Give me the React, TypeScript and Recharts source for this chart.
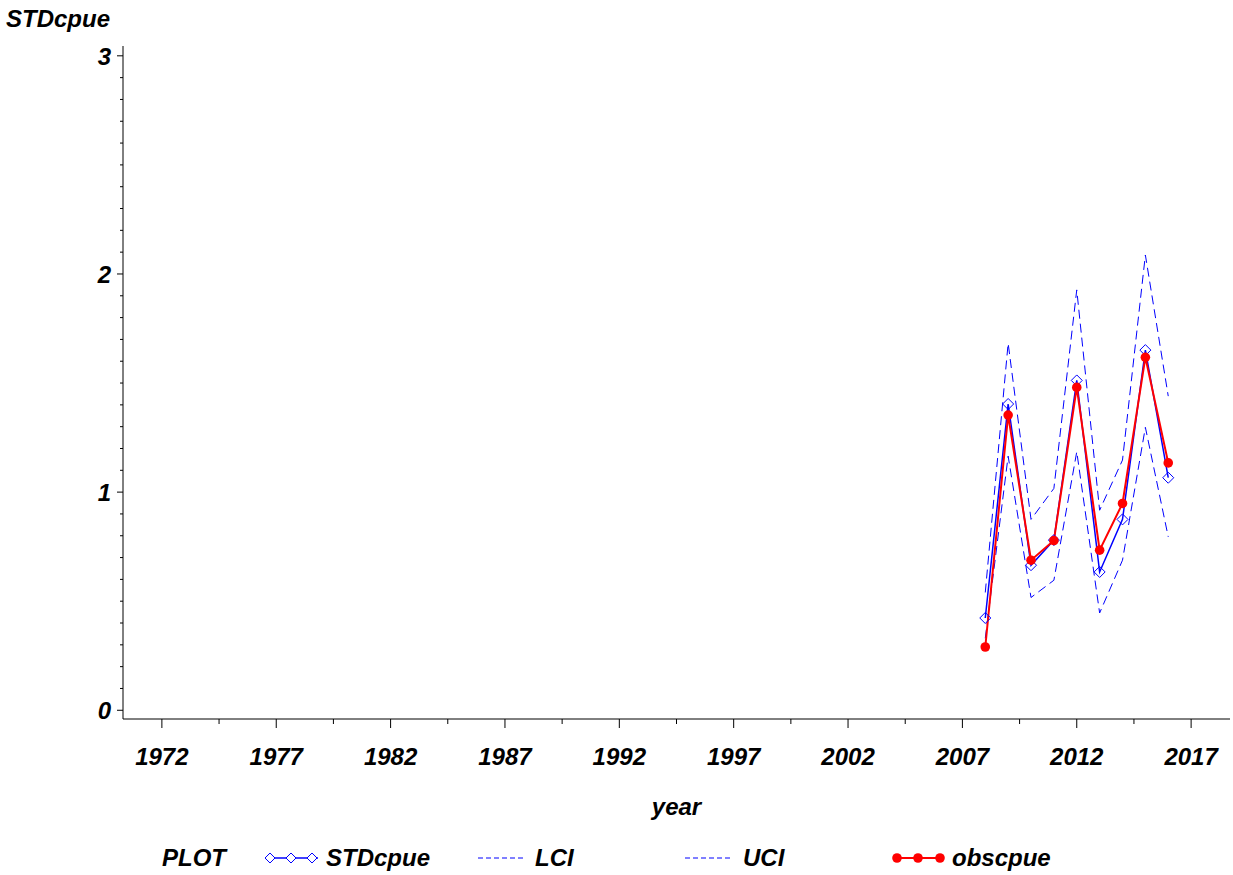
import { LineChart, Line, XAxis, YAxis, Label } from "recharts";

const years = [2008, 2009, 2010, 2011, 2012, 2013, 2014, 2015, 2016];
const stdCpue = [0.423, 1.404, 0.665, 0.78, 1.512, 0.634, 0.875, 1.651, 1.066];
const obsCpue = [0.29, 1.353, 0.688, 0.778, 1.48, 0.734, 0.948, 1.618, 1.134];
const lci = [0.33, 1.165, 0.517, 0.596, 1.185, 0.446, 0.688, 1.297, 0.795];
const uci = [0.54, 1.682, 0.875, 1.017, 1.927, 0.917, 1.147, 2.087, 1.44];

const xMajorTicks = [1972, 1977, 1982, 1987, 1992, 1997, 2002, 2007, 2012, 2017];
const yMajorTicks = [0, 1, 2, 3];

const X_DOMAIN: [number, number] = [1970.3, 2018.7];
const Y_DOMAIN: [number, number] = [-0.04, 3.045];

const FONT = "'Liberation Sans', Arial, sans-serif";
const BLUE = "#0000ff";
const RED = "#ff0000";

const data = years.map((year, i) => ({
  year,
  STDcpue: stdCpue[i],
  obscpue: obsCpue[i],
  LCI: lci[i],
  UCI: uci[i],
}));

// minor ticks halfway between majors on x, every 0.1 on y
const xTicks = [...xMajorTicks, ...xMajorTicks.slice(0, -1).map((t) => t + 2.5)].sort((a, b) => a - b);
const yTicks: number[] = [];
for (let i = 0; i <= 30; i++) yTicks.push(i / 10);

const textStyle = {
  fontFamily: FONT,
  fontStyle: "italic" as const,
  fontWeight: "bold" as const,
  fontSize: 24,
  fill: "#000",
};

const XTick = (props: any) => {
  const { x, y, payload } = props;
  const major = xMajorTicks.includes(payload.value);
  return (
    <g>
      <line x1={x} x2={x} y1={y} y2={y + (major ? 9 : 5)} stroke="#000" />
      {major && (
        <text x={x} y={y + 46} textAnchor="middle" {...textStyle}>
          {payload.value}
        </text>
      )}
    </g>
  );
};

const YTick = (props: any) => {
  const { x, y, payload } = props;
  const major = yMajorTicks.includes(payload.value);
  return (
    <g>
      <line x1={x} x2={x - (major ? 6 : 3)} y1={y} y2={y} stroke="#000" />
      {major && (
        <text x={x - 12} y={y + 9} textAnchor="end" {...textStyle}>
          {payload.value}
        </text>
      )}
    </g>
  );
};

const Diamond = (props: any) => {
  const { cx, cy, index } = props;
  if (cx == null || cy == null) return <g key={index} />;
  return (
    <path
      key={index}
      d={`M${cx},${cy - 5.5}L${cx + 5.5},${cy}L${cx},${cy + 5.5}L${cx - 5.5},${cy}Z`}
      fill="none"
      stroke={BLUE}
      strokeWidth={1}
    />
  );
};

const Dot = (props: any) => {
  const { cx, cy, index } = props;
  if (cx == null || cy == null) return <g key={index} />;
  return <circle key={index} cx={cx} cy={cy} r={4.8} fill={RED} stroke="none" />;
};

const legendText: React.CSSProperties = {
  position: "absolute",
  top: 843,
  fontFamily: FONT,
  fontStyle: "italic",
  fontWeight: "bold",
  fontSize: 24,
  lineHeight: "30px",
  color: "#000",
  whiteSpace: "nowrap",
};

const Legend = () => (
  <>
    <div style={{ ...legendText, left: 162 }}>PLOT</div>
    <svg style={{ position: "absolute", left: 262, top: 850 }} width={62} height={16}>
      <line x1={4} x2={56} y1={8} y2={8} stroke={BLUE} strokeWidth={1.5} />
      {[8, 29, 50].map((cx) => (
        <path key={cx} d={`M${cx},3L${cx + 5},8L${cx},13L${cx - 5},8Z`} fill="#fff" stroke={BLUE} />
      ))}
    </svg>
    <div style={{ ...legendText, left: 326 }}>STDcpue</div>
    <svg style={{ position: "absolute", left: 476, top: 850 }} width={52} height={16}>
      <line x1={2} x2={50} y1={8} y2={8} stroke={BLUE} strokeWidth={1} strokeDasharray="5 3" />
    </svg>
    <div style={{ ...legendText, left: 535 }}>LCI</div>
    <svg style={{ position: "absolute", left: 683, top: 850 }} width={52} height={16}>
      <line x1={2} x2={50} y1={8} y2={8} stroke={BLUE} strokeWidth={1} strokeDasharray="5 3" />
    </svg>
    <div style={{ ...legendText, left: 743 }}>UCI</div>
    <svg style={{ position: "absolute", left: 890, top: 850 }} width={58} height={16}>
      <line x1={4} x2={54} y1={8} y2={8} stroke={RED} strokeWidth={2} />
      {[7, 28, 50].map((cx) => (
        <circle key={cx} cx={cx} cy={8} r={4.8} fill={RED} />
      ))}
    </svg>
    <div style={{ ...legendText, left: 952 }}>obscpue</div>
  </>
);

export default function App() {
  return (
    <div style={{ position: "absolute", left: 0, top: 0, width: 1233, height: 875, background: "#fff" }}>
      <div style={{ ...legendText, top: 4, left: 6 }}>STDcpue</div>
      <LineChart width={1233} height={875} data={data} margin={{ top: 46, right: 3, bottom: 0, left: 0 }}>
        <XAxis
          dataKey="year"
          type="number"
          domain={X_DOMAIN}
          allowDataOverflow
          ticks={xTicks}
          interval={0}
          tickSize={0}
          tickMargin={0}
          tick={<XTick />}
          axisLine={{ stroke: "#000" }}
          height={156}
        >
          <Label value="year" position="insideBottom" offset={60} style={textStyle} />
        </XAxis>
        <XAxis
          xAxisId="top"
          orientation="top"
          type="number"
          domain={X_DOMAIN}
          allowDataOverflow
          height={0}
          tick={false}
          tickLine={false}
          axisLine={{ stroke: "#000" }}
        />
        <YAxis
          type="number"
          domain={Y_DOMAIN}
          allowDataOverflow
          ticks={yTicks}
          interval={0}
          tickSize={0}
          tickMargin={0}
          tick={<YTick />}
          axisLine={{ stroke: "#000" }}
          width={123}
        />
        <YAxis
          yAxisId="right"
          orientation="right"
          type="number"
          domain={Y_DOMAIN}
          allowDataOverflow
          width={0}
          tick={false}
          tickLine={false}
          axisLine={{ stroke: "#000" }}
        />
        <Line dataKey="LCI" stroke={BLUE} strokeWidth={1} strokeDasharray="9 5" dot={false} isAnimationActive={false} />
        <Line dataKey="UCI" stroke={BLUE} strokeWidth={1} strokeDasharray="9 5" dot={false} isAnimationActive={false} />
        <Line dataKey="STDcpue" stroke={BLUE} strokeWidth={1.5} dot={<Diamond />} isAnimationActive={false} />
        <Line dataKey="obscpue" stroke={RED} strokeWidth={2} dot={<Dot />} isAnimationActive={false} />
      </LineChart>
      <Legend />
    </div>
  );
}
